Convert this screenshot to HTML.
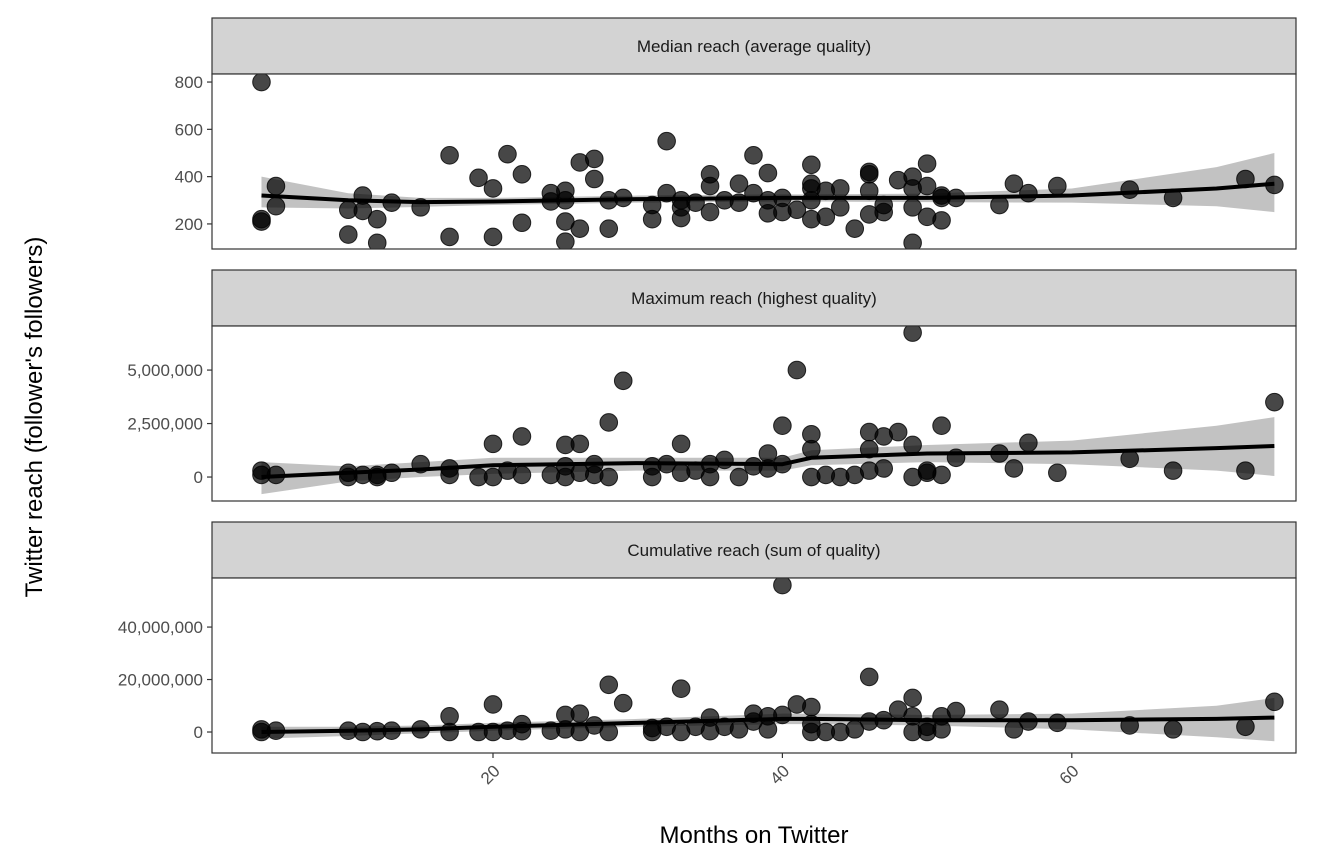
<!DOCTYPE html>
<html><head><meta charset="utf-8"><style>
body{margin:0;background:#fff;}
svg{display:block;font-family:"Liberation Sans",sans-serif;}
</style></head><body>
<svg id="chart" width="1344" height="864"></svg>
<script>
const months1=[4,4,4,5,5,10,10,11,11,12,12,13,15,17,17,19,20,20,21,22,22,24,24,25,25,25,25,26,26,27,27,28,28,29,31,31,32,32,33,33,33,34,35,35,35,36,37,37,38,38,39,39,39,40,40,41,42,42,42,42,42,43,43,44,44,45,46,46,46,46,47,47,48,49,49,49,49,50,50,50,51,51,51,52,55,56,57,59,64,67,72,74];
const values1=[800,210,220,275,360,155,260,255,320,120,220,290,270,145,490,395,145,350,495,410,205,330,295,125,210,340,300,460,180,475,390,300,180,310,220,280,550,330,225,270,300,290,250,360,410,300,370,290,490,330,415,300,245,250,310,260,450,370,350,300,220,230,340,270,350,180,420,410,340,240,250,280,385,400,120,270,350,455,230,360,310,320,215,310,280,370,330,360,345,310,390,365];
const months2=[4,4,5,10,10,11,12,12,13,15,17,17,19,20,20,21,22,22,24,25,25,25,26,26,27,27,28,28,29,31,31,32,33,33,34,35,35,36,37,38,39,39,40,40,41,42,42,42,43,44,45,46,46,46,47,47,48,49,49,49,50,50,51,51,52,55,56,57,59,64,67,72,74];
const values2=[0.1,0.3,0.1,0,0.2,0.1,0,0.1,0.2,0.6,0.4,0.1,0,1.55,0,0.3,1.9,0.1,0.1,1.5,0.5,0,1.55,0.2,0.6,0.1,2.55,0,4.5,0.5,0,0.6,1.55,0.2,0.3,0.6,0,0.8,0,0.5,1.1,0.4,2.4,0.6,5.0,2.0,1.3,0,0.1,0,0.1,2.1,1.3,0.3,1.9,0.4,2.1,6.75,1.5,0,0.2,0.3,2.4,0.1,0.9,1.1,0.4,1.6,0.2,0.85,0.3,0.3,3.5];
const months3=[4,4,5,10,11,12,13,15,17,17,19,20,20,21,22,22,24,25,25,26,26,27,28,28,29,31,31,32,33,33,34,35,35,36,37,38,38,39,39,40,40,41,42,42,42,43,44,45,46,46,47,48,49,49,49,50,50,51,51,52,55,56,57,59,64,67,72,74];
const values3=[1,0,0.5,0.5,0,0.3,0.5,1,6,0,0,10.5,0,0.5,3,0.3,0.5,6.5,1,7,0,2.5,18,0,11,1.5,0,2,16.5,0,2,5.5,0.3,2,1,7,4,6,1,56,6.5,10.5,9.5,3,0,0,0,1,21,4,4.5,8.5,13,6,0,0,2,6,1,8,8.5,1,4,3.5,2.5,1,2,11.5];
const fitMonths=[4,10,15,20,30,40,42,50,60,70,74];
const fit1=[320,300,292,295,305,310,310,310,320,350,370];
const lo1=[270,265,272,280,290,295,295,292,290,275,250];
const hi1=[400,330,310,310,320,325,325,328,350,440,500];
const fit2=[0,0.2,0.35,0.55,0.65,0.6,0.9,1.1,1.15,1.35,1.45];
const lo2=[-0.8,-0.2,0,0.15,0.3,0.3,0.55,0.7,0.6,0.3,0.05];
const hi2=[0.7,0.5,0.7,0.9,0.9,0.9,1.25,1.5,1.7,2.4,2.8];
const fit3=[0,0.5,1,2,3.5,5,5,4.5,4.5,5,5.5];
const lo3=[-2.5,-1.5,-0.5,0.5,2,3,3,2.5,1,-2,-3.5];
const hi3=[2,2,2.5,3.5,5,7,7,6.5,7,10,13];
const xTicks=[20,40,60];
const yTicks1=[200,400,600,800];const yLabels1=["200","400","600","800"];
const yTicks2=[0,2.5,5];const yLabels2=["0","2,500,000","5,000,000"];
const yTicks3=[0,20,40];const yLabels3=["0","20,000,000","40,000,000"];
const titles=["Median reach (average quality)","Maximum reach (highest quality)","Cumulative reach (sum of quality)"];

const NS="http://www.w3.org/2000/svg";
const svg=document.getElementById('chart');
function mk(tag,attrs,parent){const e=document.createElementNS(NS,tag);for(const k in attrs)e.setAttribute(k,attrs[k]);(parent||svg).appendChild(e);return e;}
const L=212,R=1296;
const xs=m=>203.6+m*14.47;
const panels=[
 {st:18,top:74,bot:249,d0:94,d1:834,m:months1,v:values1,f:fit1,lo:lo1,hi:hi1,t:yTicks1,tl:yLabels1},
 {st:270,top:326,bot:501,d0:-1.12,d1:7.06,m:months2,v:values2,f:fit2,lo:lo2,hi:hi2,t:yTicks2,tl:yLabels2},
 {st:522,top:578,bot:753,d0:-8,d1:58.7,m:months3,v:values3,f:fit3,lo:lo3,hi:hi3,t:yTicks3,tl:yLabels3}
];
panels.forEach((p,i)=>{
 const g=mk('g',{});
 
 
 const ys=v=>p.bot-(v-p.d0)/(p.d1-p.d0)*(p.bot-p.top);
 const strip=mk('rect',{x:L,y:p.st,width:R-L,height:p.top-p.st,fill:'#d3d3d3',stroke:'#333',"stroke-width":1.2},g);
 
 
 const st=mk('text',{x:(L+R)/2,y:(p.st+p.top)/2+6,"text-anchor":"middle","font-size":17,fill:'#1a1a1a'},g);
 st.textContent=titles[i];
 
 
 mk('rect',{x:L,y:p.top,width:R-L,height:p.bot-p.top,fill:'#fff'},g);
 let d='M'+fitMonths.map((m,k)=>xs(m)+','+ys(p.hi[k])).join('L');
 d+='L'+fitMonths.slice().reverse().map((m,k)=>xs(m)+','+ys(p.lo[fitMonths.length-1-k])).join('L')+'Z';
 const cp=mk('clipPath',{id:'c'+i},g);mk('rect',{x:L,y:p.top,width:R-L,height:p.bot-p.top},cp);
 const rib=mk('path',{d:d,fill:'#999',"fill-opacity":0.6,"clip-path":'url(#c'+i+')'},g);
 
 
 p.m.forEach((m,k)=>{
  const c=mk('circle',{cx:xs(m),cy:ys(p.v[k]),r:8.8,fill:'#000',"fill-opacity":0.72,stroke:'#000',"stroke-opacity":0.8,"stroke-width":1,"clip-path":'url(#c'+i+')'},g);
  
  
 });
 const ln=mk('path',{d:'M'+fitMonths.map((m,k)=>xs(m)+','+ys(p.f[k])).join('L'),fill:'none',stroke:'#000',"stroke-width":4,"stroke-linejoin":'round'},g);
 
 
 mk('rect',{x:L,y:p.top,width:R-L,height:p.bot-p.top,fill:'none',stroke:'#333',"stroke-width":1.2},g);
 p.t.forEach((t,k)=>{
  const y=ys(t);
  mk('line',{x1:L-5,x2:L,y1:y,y2:y,stroke:'#333',"stroke-width":1.2},g);
  const tx=mk('text',{x:L-9,y:y+6,"text-anchor":"end","font-size":17,fill:'#4d4d4d'},g);
  tx.textContent=p.tl[k];
  
  
 });
});
xTicks.forEach(t=>{
 const x=xs(t);
 mk('line',{x1:x,x2:x,y1:753,y2:758,stroke:'#333',"stroke-width":1.2});
 const tx=mk('text',{x:x+8,y:772,"text-anchor":"end","font-size":17,fill:'#4d4d4d',transform:'rotate(-45 '+(x+8)+' 772)'});
 tx.textContent=t;
 
 
});
const xt=mk('text',{x:754,y:843,"text-anchor":"middle","font-size":24,fill:'#000'});
xt.textContent='Months on Twitter';


const yt=mk('text',{x:42,y:417,"text-anchor":"middle","font-size":24,fill:'#000',transform:'rotate(-90 42 417)'});
yt.textContent="Twitter reach (follower's followers)";


</script>
</body></html>
